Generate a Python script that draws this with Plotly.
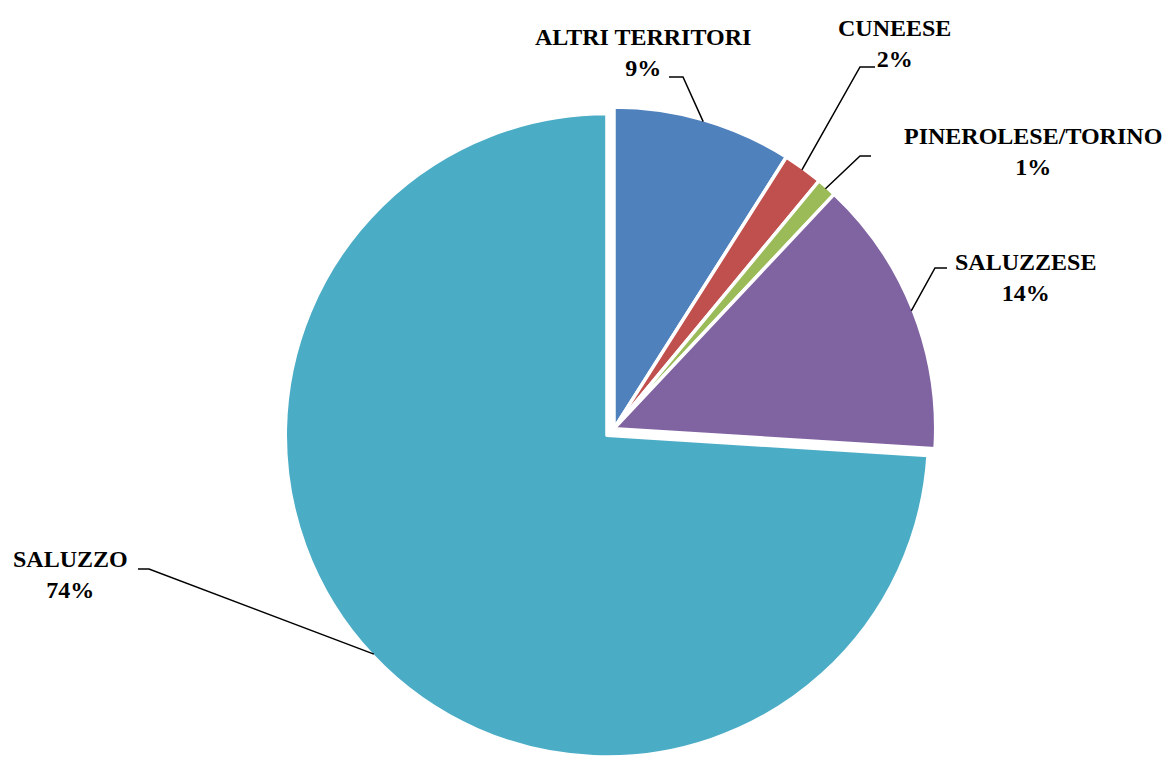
import math
import plotly.graph_objects as go

# Provenienza per territorio (percentuali)
labels = ["ALTRI TERRITORI", "CUNEESE", "PINEROLESE/TORINO", "SALUZZESE", "SALUZZO"]
values = [9, 2, 1, 14, 74]
colors = ["#4F81BD", "#C0504D", "#9BBB59", "#8064A2", "#4BACC6"]
pulls = [0, 0, 0, 0, 0.03]

W, H = 1174, 760
DOM_X = [0.173, 0.873]
DOM_Y = [0.0, 0.872]

# label placement (pixel centres of the two-line text block) and leader-line elbows
label_xy = [(643, 53), (894, 43), (1033, 151), (1025, 277), (70, 574)]
elbow_xy = [(683, 77), (860, 67), (860, 156), (935, 268), (149, 569)]
stub_x = [669, 875, 871, 947, 138]

fig = go.Figure(go.Pie(
    labels=labels,
    values=values,
    sort=False,
    direction="clockwise",
    rotation=0,
    pull=pulls,
    marker=dict(colors=colors, line=dict(color="white", width=3.5)),
    textinfo="none",
    hoverinfo="label+percent",
    showlegend=False,
    domain=dict(x=DOM_X, y=DOM_Y),
))

# pie geometry in pixels (same rules plotly uses to size the pie)
box_w = W * (DOM_X[1] - DOM_X[0])
box_h = H * (DOM_Y[1] - DOM_Y[0])
cx = W * (DOM_X[0] + DOM_X[1]) / 2
cy = H * (1 - DOM_Y[0]) - box_h / 2
r = min(box_w, box_h) / (2 * (1 + max(pulls)))

total = sum(values)


def px(x, y):
    return x / W, 1 - y / H


cum = 0
shapes = []
annotations = []
for i, v in enumerate(values):
    mid = math.radians((cum + v / 2) / total * 360)
    cum += v
    dx, dy = math.sin(mid), -math.cos(mid)
    ox = cx + pulls[i] * r * dx
    oy = cy + pulls[i] * r * dy
    ax, ay = ox + (r - 2) * dx, oy + (r - 2) * dy
    ex, ey = elbow_xy[i]
    p0 = px(ax, ay)
    p1 = px(ex, ey)
    p2 = px(stub_x[i], ey)
    shapes.append(dict(
        type="path", xref="paper", yref="paper",
        path=f"M {p0[0]},{p0[1]} L {p1[0]},{p1[1]} L {p2[0]},{p2[1]}",
        line=dict(color="black", width=1.5),
    ))
    pct = round(v / total * 100)
    lx, ly = px(*label_xy[i])
    annotations.append(dict(
        x=lx, y=ly, xref="paper", yref="paper",
        text=f"<b>{labels[i]}</b><br><b>{pct}%</b>",
        showarrow=False, xanchor="center", yanchor="middle", align="center",
        font=dict(family="Liberation Serif, Times New Roman, serif", size=24, color="black"),
    ))

fig.update_layout(
    width=W, height=H,
    margin=dict(l=0, r=0, t=0, b=0),
    paper_bgcolor="white",
    plot_bgcolor="white",
    shapes=shapes,
    annotations=annotations,
)

fig.write_html("out.html")
